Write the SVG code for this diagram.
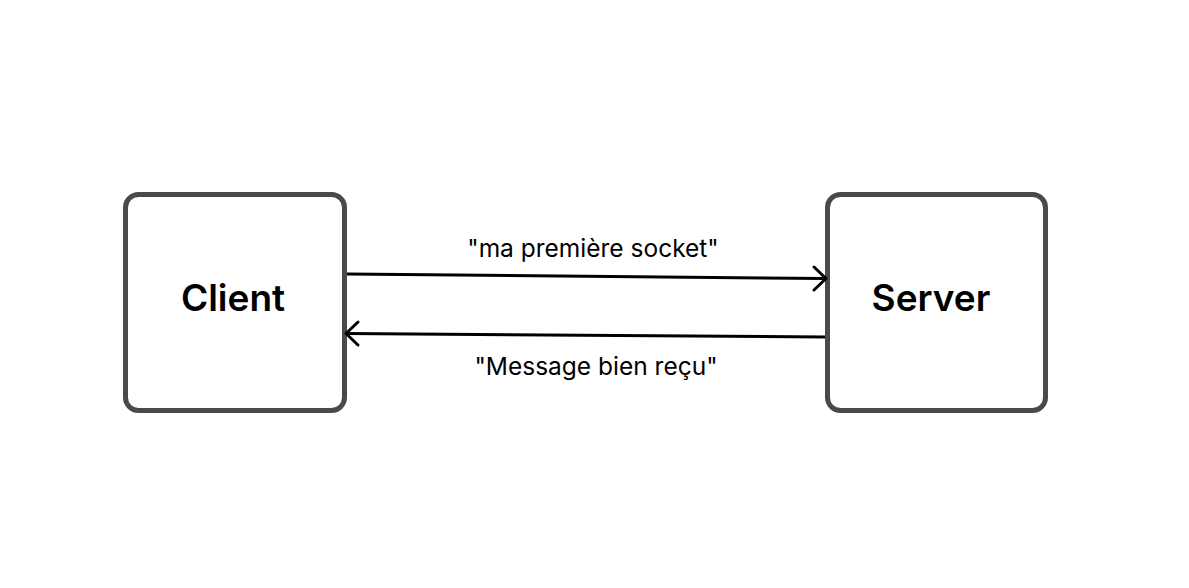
<svg xmlns="http://www.w3.org/2000/svg" width="1189" height="588" viewBox="0 0 1189 588">
<defs>
<style>
.box{fill:#fff;stroke:#4a4a4a;stroke-width:5}
.lbl{font-family:Inter,"Liberation Sans",sans-serif;font-weight:600;font-size:37px;fill:#000;text-anchor:middle}
.msg{font-family:Inter,"Liberation Sans",sans-serif;font-size:24.5px;fill:#000;text-anchor:middle}
.con{fill:none;stroke:#000;stroke-width:3}
.head{fill:none;stroke:#000;stroke-width:3;stroke-linecap:round;stroke-linejoin:round}
</style>
</defs>
<rect width="1189" height="588" fill="#fff"/>
<g id="client">
<rect class="box" x="125.5" y="194.5" width="219" height="216" rx="13"/>
<text class="lbl" x="233" y="311">Client</text>
</g>
<g id="server">
<rect class="box" x="827.5" y="194.5" width="218" height="216" rx="13"/>
<text class="lbl" x="931" y="311">Server</text>
</g>
<g id="connectors">
<path class="con" d="M347 274 L825 278.5"/>
<path class="head" d="M814 267 L826 278.5 L814 290"/>
<text class="msg" x="593" y="257">"ma première socket"</text>
<path class="con" d="M825 337 L346 333.5"/>
<path class="head" d="M358 322 L346 333.5 L358 345"/>
<text class="msg" x="596" y="375">"Message bien reçu"</text>
</g>
</svg>
